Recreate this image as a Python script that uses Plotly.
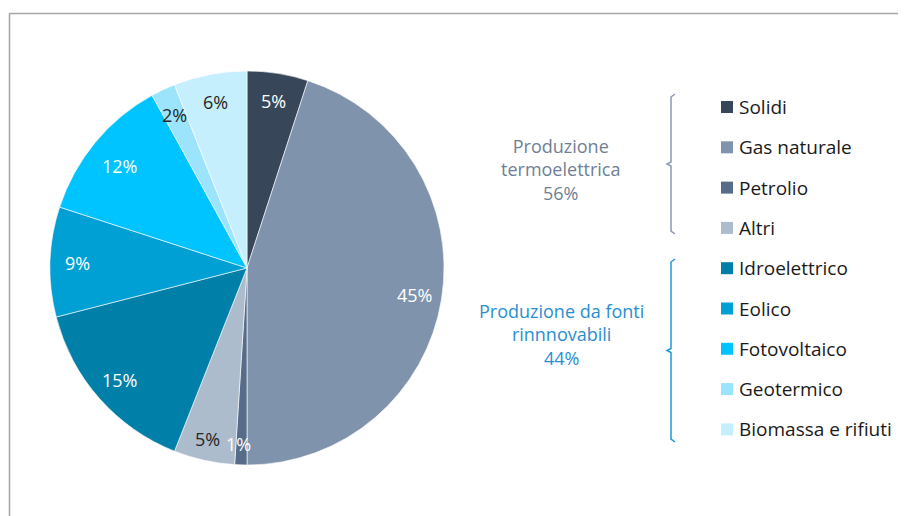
import math

import plotly.graph_objects as go

# Italian electricity production mix (%)
sources = ["Solidi", "Gas naturale", "Petrolio", "Altri",
           "Idroelettrico", "Eolico", "Fotovoltaico", "Geotermico",
           "Biomassa e rifiuti"]
shares = [5, 45, 1, 5, 15, 9, 12, 2, 6]
colors = ["#374759", "#7f93ad", "#566c88", "#adbccc",
          "#0080a8", "#009fd4", "#00c4ff", "#9be4fc", "#c6effd"]
label_colors = ["white", "white", "white", "#262626",
                "white", "white", "white", "#262626", "#262626"]

groups = ["Produzione<br>termoelettrica<br>56%",
          "Produzione da fonti<br>rinnnovabili<br>44%"]
group_colors = ["#6f7f95", "#2a8fd0"]
bracket_colors = ["#8a9ab0", "#1a9ad6"]

# the page body has an 8px margin, so the figure is shrunk and every
# screen position below is shifted by it
OFF = 8
W, H = 906 - OFF, 516 - OFF
FONT = "Open Sans"

# pie placement in screen pixels
cx, cy, r = 247, 268, 197
# small hand nudges (px) for crowded slice labels, like the original
nudges = {2: (-3, 7), 3: (-3, 6), 6: (3, 6)}


def px(x):
    return (x - OFF) / W


def py(y):
    return 1 - (y - OFF) / H


fig = go.Figure()
fig.add_trace(go.Pie(
    labels=sources, values=shares, sort=False, direction="clockwise",
    rotation=0, marker=dict(colors=colors, line=dict(color="white", width=0.6)),
    textinfo="none", hoverinfo="label+percent", showlegend=False,
    domain=dict(x=[px(cx - r), px(cx + r)], y=[py(cy + r), py(cy - r)]),
))

annotations = []
shapes = []

# slice labels, placed along each slice's mid angle
total = sum(shares)
cum = 0
for i, (v, col) in enumerate(zip(shares, label_colors)):
    theta = 2 * math.pi * (cum + v / 2) / total
    cum += v
    dx, dy = nudges.get(i, (0, 0))
    lx = cx + 0.86 * r * math.sin(theta) + dx
    ly = cy - 0.86 * r * math.cos(theta) + dy
    annotations.append(dict(
        x=px(lx), y=py(ly), xref="paper", yref="paper", showarrow=False,
        xanchor="center", yanchor="middle",
        text=f"{v}%", font=dict(family=FONT, size=18, color=col),
    ))

# manual legend
leg_top, leg_step = 107, 40.3
for i, (name, col) in enumerate(zip(sources, colors)):
    y = leg_top + i * leg_step
    shapes.append(dict(type="rect", xref="paper", yref="paper",
                       x0=px(721), x1=px(733), y0=py(y + 6), y1=py(y - 6),
                       fillcolor=col, line=dict(width=0)))
    annotations.append(dict(
        x=px(737), y=py(y), xref="paper", yref="paper", showarrow=False,
        xanchor="left", yanchor="middle", text=name,
        font=dict(family=FONT, size=19, color="#1a1a1a"),
    ))

# group brackets and captions
brackets = [(94, 234), (259, 442)]
caption_y = [169, 334]
for (top, bot), col, txt, tcol, ty in zip(brackets, bracket_colors, groups,
                                          group_colors, caption_y):
    mid = (top + bot) / 2
    bx = 671
    path = (f"M {px(bx + 4)},{py(top)} L {px(bx)},{py(top + 3)} "
            f"L {px(bx)},{py(mid - 2)} L {px(bx - 4)},{py(mid)} "
            f"L {px(bx)},{py(mid + 2)} L {px(bx)},{py(bot - 3)} "
            f"L {px(bx + 4)},{py(bot)}")
    shapes.append(dict(type="path", xref="paper", yref="paper", path=path,
                       line=dict(color=col, width=1.5)))
    annotations.append(dict(
        x=px(561), y=py(ty), xref="paper", yref="paper", showarrow=False,
        xanchor="center", yanchor="middle",
        text=txt, align="center", font=dict(family=FONT, size=18, color=tcol),
    ))

# frame border (top and left edges visible)
shapes.append(dict(type="path", xref="paper", yref="paper",
                   path=f"M {px(9.5)},0 L {px(9.5)},{py(13.5)} L 1,{py(13.5)}",
                   line=dict(color="#a6a6a6", width=1.5)))

fig.update_layout(
    width=W, height=H, margin=dict(l=0, r=0, t=0, b=0),
    paper_bgcolor="white", plot_bgcolor="white",
    annotations=annotations, shapes=shapes,
)
fig.write_html("out.html")
